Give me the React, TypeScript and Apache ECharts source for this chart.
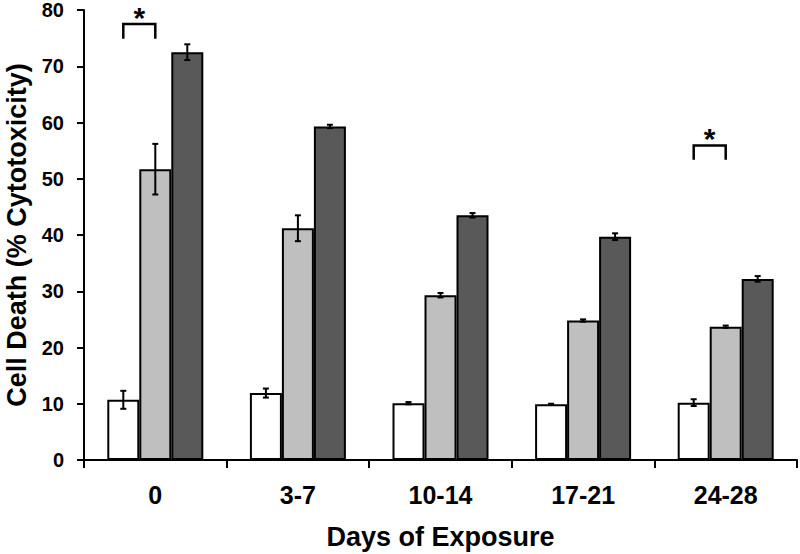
import React, { useEffect, useRef } from "react";
import * as echarts from "echarts";

const categories = ["0", "3-7", "10-14", "17-21", "24-28"];
const whiteMeans = [10.7, 11.9, 10.1, 9.9, 10.2];
const whiteErrs = [1.6, 0.8, 0.2, 0.1, 0.6];
const lightMeans = [51.7, 41.2, 29.3, 24.8, 23.7];
const lightErrs = [4.5, 2.3, 0.4, 0.2, 0.2];
const darkMeans = [72.5, 59.3, 43.5, 39.7, 32.2];
const darkErrs = [1.4, 0.3, 0.4, 0.6, 0.5];
const brackets = [
  { cat: 0, top: 77.5, bottom: 74.9 },
  { cat: 4, top: 55.9, bottom: 53.4 },
];
const yTicks = [0, 10, 20, 30, 40, 50, 60, 70, 80];

const FONT = "'Liberation Sans', Arial, sans-serif";
const BAR_W = 32;

function errorSeries(means: number[], errs: number[], offset: number) {
  return {
    type: "custom",
    z: 10,
    clip: false,
    data: means.map((m, i) => [i, m, errs[i]]),
    encode: { x: 0, y: 1 },
    renderItem: (params: any, api: any) => {
      const i = api.value(0);
      const m = api.value(1);
      const e = api.value(2);
      const hi = api.coord([i, m + e]);
      const lo = api.coord([i, m - e]);
      const x = hi[0] + offset;
      const cap = 3;
      const style = { stroke: "#000", lineWidth: 2 };
      return {
        type: "group",
        children: [
          { type: "line", shape: { x1: x, y1: hi[1], x2: x, y2: lo[1] }, style },
          { type: "line", shape: { x1: x - cap, y1: hi[1], x2: x + cap, y2: hi[1] }, style },
          { type: "line", shape: { x1: x - cap, y1: lo[1], x2: x + cap, y2: lo[1] }, style },
        ],
      };
    },
  };
}

export default function App() {
  const ref = useRef<HTMLDivElement>(null);
  useEffect(() => {
    if (!ref.current) return;
    const chart = echarts.init(ref.current, undefined, { renderer: "svg" });
    const barBase = {
      type: "bar",
      barWidth: BAR_W,
      barGap: "0%",
      itemStyle: { borderColor: "#000", borderWidth: 2 },
    };
    chart.setOption({
      animation: false,
      backgroundColor: "#fff",
      grid: { left: 84, right: 3, top: 10, bottom: 94, containLabel: false, outerBoundsMode: "none" },
      xAxis: {
        type: "category",
        data: categories,
        name: "Days of Exposure",
        nameLocation: "middle",
        nameGap: 63,
        nameTextStyle: { fontFamily: FONT, fontWeight: "bold", fontSize: 27, color: "#000" },
        axisLine: { lineStyle: { color: "#000", width: 2 } },
        axisTick: { show: true, length: 8, lineStyle: { color: "#000", width: 2 } },
        axisLabel: { fontFamily: FONT, fontWeight: "bold", fontSize: 25, color: "#000", margin: 22 },
      },
      yAxis: {
        type: "value",
        min: yTicks[0],
        max: yTicks[yTicks.length - 1],
        interval: 10,
        name: "Cell Death (% Cytotoxicity)",
        nameLocation: "middle",
        nameGap: 54,
        nameTextStyle: { fontFamily: FONT, fontWeight: "bold", fontSize: 27, color: "#000" },
        axisLine: { show: true, lineStyle: { color: "#000", width: 2 } },
        axisTick: { show: true, length: 7, lineStyle: { color: "#000", width: 2 } },
        axisLabel: {
          fontFamily: FONT,
          fontWeight: "bold",
          fontSize: 20,
          color: "#000",
          margin: 20,
        },
        splitLine: { show: false },
      },
      series: [
        { ...barBase, name: "A", data: whiteMeans, itemStyle: { ...barBase.itemStyle, color: "#ffffff" } },
        { ...barBase, name: "B", data: lightMeans, itemStyle: { ...barBase.itemStyle, color: "#bfbfbf" } },
        { ...barBase, name: "C", data: darkMeans, itemStyle: { ...barBase.itemStyle, color: "#595959" } },
        errorSeries(whiteMeans, whiteErrs, -BAR_W),
        errorSeries(lightMeans, lightErrs, 0),
        errorSeries(darkMeans, darkErrs, BAR_W),
        {
          type: "custom",
          z: 10,
          clip: false,
          data: brackets.map((b) => [b.cat, b.top, b.bottom]),
          encode: { x: 0, y: 1 },
          renderItem: (params: any, api: any) => {
            const i = api.value(0);
            const top = api.coord([i, api.value(1)]);
            const bot = api.coord([i, api.value(2)]);
            const x1 = top[0] - BAR_W;
            const x2 = top[0];
            return {
              type: "group",
              children: [
                {
                  type: "polyline",
                  shape: { points: [[x1, bot[1]], [x1, top[1]], [x2, top[1]], [x2, bot[1]]] },
                  style: { stroke: "#000", lineWidth: 2.5, fill: null },
                },
                {
                  type: "text",
                  x: (x1 + x2) / 2,
                  y: top[1] + 8,
                  style: {
                    text: "*",
                    fontFamily: FONT,
                    fontWeight: "bold",
                    fontSize: 30,
                    fill: "#000",
                    align: "center",
                    verticalAlign: "bottom",
                  },
                },
              ],
            };
          },
        },
      ],
    });
    return () => chart.dispose();
  }, []);
  return <div ref={ref} style={{ width: 800, height: 554, position: "absolute", left: 0, top: 0 }} />;
}
